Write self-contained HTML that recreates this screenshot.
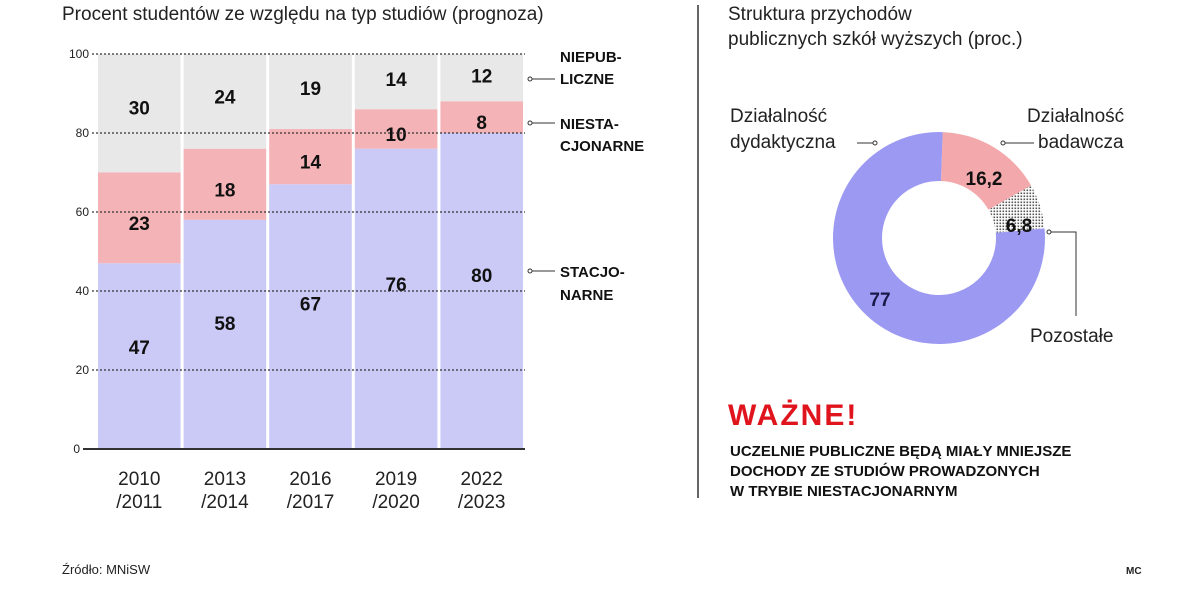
<!DOCTYPE html>
<html><head><meta charset="utf-8"><style>
body{margin:0;background:#fff;width:1200px;height:589px;overflow:hidden;font-family:"Liberation Sans","DejaVu Sans",sans-serif;}
svg text{font-family:"Liberation Sans","DejaVu Sans",sans-serif;}
</style></head><body>
<svg width="1200" height="589" viewBox="0 0 1200 589">
<defs>
<pattern id="dots" width="3" height="3" patternUnits="userSpaceOnUse"><rect width="3" height="3" fill="#fff"/><rect x="0.5" y="0.5" width="1.6" height="1.6" fill="#555"/></pattern>
</defs>
<text x="62" y="20" font-size="19" fill="#222">Procent studentów ze względu na typ studiów (prognoza)</text>
<g id="bars"></g>
<g font-size="15" font-weight="bold" fill="#111">
<line x1="530" y1="79" x2="555" y2="79" stroke="#333"/><circle cx="530" cy="79" r="2" fill="#fff" stroke="#333"/>
<text x="560" y="62">NIEPUB-</text><text x="560" y="84">LICZNE</text>
<line x1="530" y1="123" x2="555" y2="123" stroke="#333"/><circle cx="530" cy="123" r="2" fill="#fff" stroke="#333"/>
<text x="560" y="129">NIESTA-</text><text x="560" y="151">CJONARNE</text>
<line x1="530" y1="271" x2="555" y2="271" stroke="#333"/><circle cx="530" cy="271" r="2" fill="#fff" stroke="#333"/>
<text x="560" y="277">STACJO-</text><text x="560" y="300">NARNE</text>
</g>
<line x1="698" y1="5" x2="698" y2="498" stroke="#333" stroke-width="1.5"/>
<text x="728" y="20" font-size="19" fill="#222">Struktura przychodów</text>
<text x="728" y="45" font-size="19" fill="#222">publicznych szkół wyższych (proc.)</text>
<g id="donut"></g>
<g font-size="19" fill="#222">
<text x="730" y="122">Działalność</text><text x="730" y="148">dydaktyczna</text>
<line x1="857" y1="143" x2="874" y2="143" stroke="#333"/><circle cx="875" cy="143" r="2" fill="#fff" stroke="#333"/>
<text x="1027" y="122">Działalność</text><text x="1038" y="148">badawcza</text>
<line x1="1003" y1="143" x2="1034" y2="143" stroke="#333"/><circle cx="1003" cy="143" r="2" fill="#fff" stroke="#333"/>
<polyline points="1050,232 1076,232 1076,316" fill="none" stroke="#333"/><circle cx="1049" cy="232" r="2" fill="#fff" stroke="#333"/>
<text x="1030" y="342">Pozostałe</text>
</g>
<text x="728" y="425" font-size="30" font-weight="bold" fill="#e0141c" letter-spacing="2">WAŻNE!</text>
<g font-size="15" font-weight="bold" fill="#111">
<text x="730" y="456">UCZELNIE PUBLICZNE BĘDĄ MIAŁY MNIEJSZE</text>
<text x="730" y="476">DOCHODY ZE STUDIÓW PROWADZONYCH</text>
<text x="730" y="496">W TRYBIE NIESTACJONARNYM</text>
</g>
<text x="62" y="574" font-size="13" fill="#222">Źródło: MNiSW</text>
<text x="1126" y="574" font-size="10" font-weight="bold" fill="#222">MC</text>
</svg>
<script>
const categories=["2010\n/2011","2013\n/2014","2016\n/2017","2019\n/2020","2022\n/2023"];
const stacjonarne=[47,58,67,76,80];
const niestacjonarne=[23,18,14,10,8];
const niepubliczne=[30,24,19,14,12];
const yTicks=[0,20,40,60,80,100];
const donutLabels=["Działalność badawcza","Pozostałe","Działalność dydaktyczna"];
const donutValues=[16.2,6.8,77];
const donutText=["16,2","6,8","77"];
const NS="http://www.w3.org/2000/svg";
function mk(t,a,p){const e=document.createElementNS(NS,t);for(const k in a)e.setAttribute(k,a[k]);p.appendChild(e);return e;}
const g=document.getElementById('bars');
const x0=97,x1=525,yb=449,yt=54;
const y=v=>yb-(v/100)*(yb-yt);
const bw=(x1-x0)/categories.length;
categories.forEach((c,i)=>{
  const bx=x0+i*bw+1, w=bw-3;
  const s=stacjonarne[i],n=niestacjonarne[i],p=niepubliczne[i];
  const r1=mk('rect',{x:bx,y:y(s+n+p),width:w,height:y(s+n)-y(s+n+p),fill:'#e8e8e8'},g);
  
  const r2=mk('rect',{x:bx,y:y(s+n),width:w,height:y(s)-y(s+n),fill:'#f4b4b7'},g);
  
  const r3=mk('rect',{x:bx,y:y(s),width:w,height:yb-y(s),fill:'#cbcaf7'},g);
  
  const cx=bx+w/2;
  [[s,y(s*0.55)+7],[n,y(s+n/2)+12],[p,y(s+n+p*0.55)+7]].forEach(([v,ty])=>{
    const t=mk('text',{x:cx,y:ty,'font-size':19,'font-weight':'bold','text-anchor':'middle',fill:'#111'},g);t.textContent=v;
    
  });
  c.split("\n").forEach((ln,j)=>{
    const t=mk('text',{x:cx,y:485+j*23,'font-size':19,'text-anchor':'middle',fill:'#222','font-family':'Liberation Serif, serif'},g);t.textContent=ln;
    
  });
});
yTicks.forEach(v=>{
  const l=mk('line',{x1:v===0?x0-14:x0-5,y1:y(v),x2:x1,y2:y(v),stroke:'#333','stroke-width':v===0?2:1.2,'stroke-dasharray':v===0?'':'2,2'},g);
  
  const t=mk('text',{x:v===0?80:89,y:y(v)+4,'font-size':12,'text-anchor':'end',fill:'#222'},g);t.textContent=v;
  
});
const d=document.getElementById('donut');
const cx=939,cy=238,R=106,r=57;const fills=['#f3a8ab','url(#dots)','#9c99f3'];
const tot=donutValues.reduce((a,b)=>a+b,0);let a=2;
donutValues.forEach((v,i)=>{
  const a2=a+v/tot*360;const rad=q=>(q-90)*Math.PI/180;
  const P=(rr,q)=>[cx+rr*Math.cos(rad(q)),cy+rr*Math.sin(rad(q))];
  const lg=(a2-a)>180?1:0;
  const [ax,ay]=P(R,a),[bx,by]=P(R,a2),[cx2,cy2]=P(r,a2),[dx,dy]=P(r,a);
  const p=mk('path',{d:`M${ax},${ay}A${R},${R} 0 ${lg} 1 ${bx},${by}L${cx2},${cy2}A${r},${r} 0 ${lg} 0 ${dx},${dy}Z`,fill:fills[i]},d);
  
  a=a2;
});
[[984,185],[1019,232],[880,306]].forEach((pos,i)=>{
  const t=mk('text',{x:pos[0],y:pos[1],'font-size':19,'font-weight':'bold','text-anchor':'middle',fill:i===2?'#1a1a4a':'#111'},d);t.textContent=donutText[i];
  
});
</script>
</body></html>
